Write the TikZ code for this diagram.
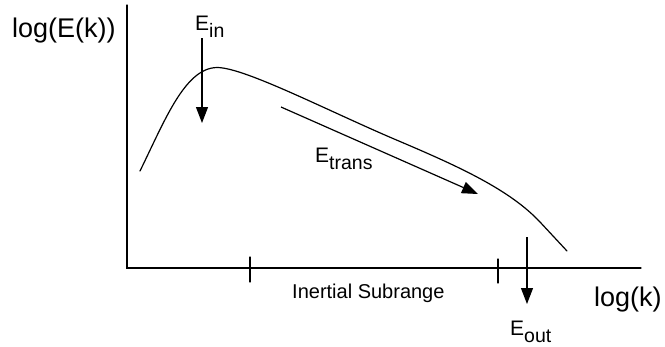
\documentclass[tikz,border=0pt]{standalone}
\usepackage{fontspec}
\setmainfont{Liberation Sans}
\usetikzlibrary{arrows.meta, positioning}
\tikzstyle{axis} = [line width=1.3pt, line cap=round]
\tikzstyle{arrow} = [line width=1.2pt, -{Triangle[length=16pt,width=12pt]}]
\tikzstyle{spectrum} = [line width=1.2pt, line cap=round]
\tikzstyle{axislabel} = [font=\fontsize{27}{30}\selectfont, inner sep=0pt, anchor=base west]
\tikzstyle{rangelabel} = [font=\fontsize{20}{24}\selectfont, inner sep=0pt, anchor=base west]
\tikzstyle{flux} = [font=\fontsize{21}{24}\selectfont, inner sep=0pt, anchor=base west]
\newcommand{\fluxname}[1]{E\raisebox{-7pt}{\fontsize{19.5}{22}\selectfont #1}}

\begin{document}
\begin{tikzpicture}[x=1pt, y=-1pt]
\useasboundingbox (0,0) rectangle (665,346);

% Axes
\coordinate (origin) at (127,268);
\coordinate (ytop) at (127,5);
\coordinate (xend) at (641,268);
\draw [axis] (ytop) -- (origin) -- (xend);

% Ticks of the inertial subrange
\coordinate (lowtop) at (250,257);
\coordinate (lowbot) at (250,282);
\coordinate (hightop) at (498,259);
\coordinate (highbot) at (498,283);
\draw [axis] (lowtop) -- (lowbot);
\draw [axis] (hightop) -- (highbot);

% Spectrum
\draw [spectrum] (140,171) .. controls (165,120) and (185,68) .. (217,67.5)
  .. controls (245,67.5) and (330,112) .. (400,141.5)
  .. controls (460,167) and (510,190) .. (540,222) -- (567,251);

% Labels
\node (ylab) [axislabel] at (12,37) {log(E(k))};
\node (xlab) [axislabel] at (594,306) {log(k)};
\node (range) [rangelabel] at (292,298) {Inertial Subrange};
\node (ein) [flux] at (195,30) {\fluxname{in}};
\node (etrans) [flux] at (315,162) {\fluxname{trans}};
\node (eout) [flux] at (510,335) {\fluxname{out}};

% Energy fluxes
\coordinate (einstart) at (202,38);
\coordinate (einend) at (202,123);
\coordinate (transstart) at (281,107);
\coordinate (transend) at (478,194);
\coordinate (outstart) at (527,237);
\coordinate (outend) at (527,304);
\draw [arrow] (einstart) -- (einend);
\draw [arrow] (transstart) -- (transend);
\draw [arrow] (outstart) -- (outend);

\end{tikzpicture}
\end{document}
